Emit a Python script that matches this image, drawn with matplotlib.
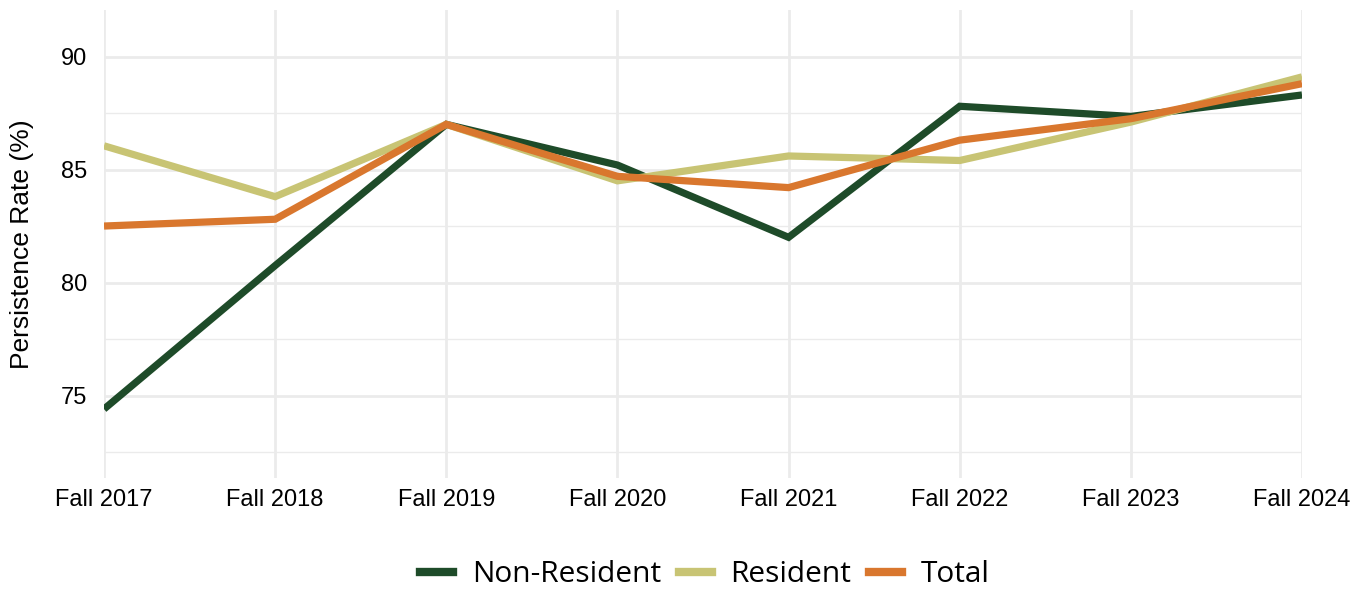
import matplotlib
matplotlib.use("Agg")
import matplotlib.pyplot as plt
from matplotlib.lines import Line2D

terms = ["Fall 2017", "Fall 2018", "Fall 2019", "Fall 2020",
         "Fall 2021", "Fall 2022", "Fall 2023", "Fall 2024"]
non_resident = [74.4, 80.75, 87.0, 85.2, 82.0, 87.8, 87.35, 88.3]
resident = [86.05, 83.8, 87.0, 84.5, 85.6, 85.4, 87.1, 89.1]
total = [82.5, 82.8, 87.0, 84.7, 84.2, 86.3, 87.25, 88.8]

series_names = ["Non-Resident", "Resident", "Total"]
colors = ["#1e4b29", "#c8c474", "#d9772e"]

plt.rcParams['font.family'] = ['Liberation Sans', 'DejaVu Sans']

fig = plt.figure(figsize=(13.7, 5.91), dpi=100)
ax = fig.add_axes([104/1370, 1-478/591, (1302-104)/1370, (478-10)/591])

x = list(range(len(terms)))
for vals, c in zip([non_resident, resident, total], colors):
    ax.plot(x, vals, color=c, lw=5.2, solid_capstyle='butt', solid_joinstyle='miter', zorder=3)

ax.set_xlim(0, len(terms) - 1)
ax.set_ylim(71.35, 92.06)
ax.set_xticks(x)
ax.set_xticklabels(terms, fontsize=17)
ax.set_yticks([75, 80, 85, 90])
ax.set_yticks([72.5, 77.5, 82.5, 87.5], minor=True)
ax.tick_params(axis='y', labelsize=17, length=0, pad=12)
ax.tick_params(axis='x', length=0, pad=8)
ax.tick_params(which='minor', length=0)
fig.text(22/1370, 1-244/591, "Persistence Rate (%)", rotation=90,
         ha='center', va='center', fontsize=19)

ax.grid(True, which='major', color='#ebebeb', lw=2.0, zorder=0)
ax.grid(True, which='minor', axis='y', color='#ebebeb', lw=1.0, zorder=0)
ax.set_axisbelow(True)
for s in ax.spines.values():
    s.set_visible(False)

handles = [Line2D([0], [0], color=c, lw=6) for c in colors]
fig.legend(handles, series_names, loc='center', bbox_to_anchor=(705/1370, 1-575/591),
           ncol=3, frameon=False, handlelength=1.1, handletextpad=0.63,
           columnspacing=0.6, prop={'family': 'Open Sans', 'size': 21.5})

fig.savefig("out.png", dpi=100)
